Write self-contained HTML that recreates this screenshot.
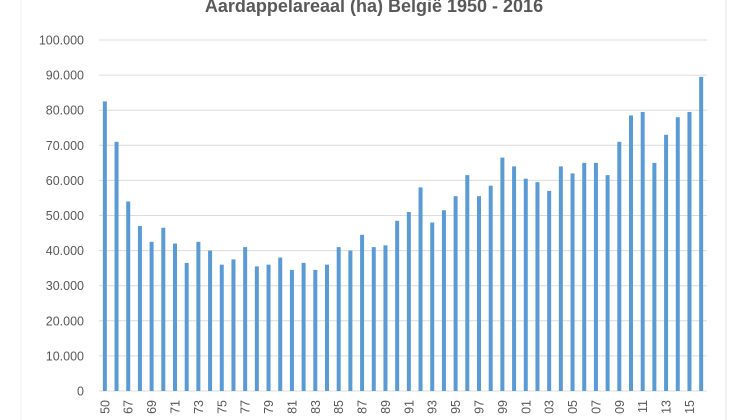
<!DOCTYPE html><html><head><style>body{margin:0;background:#fff}svg{display:block}</style></head><body>
<svg width="748" height="420" xmlns="http://www.w3.org/2000/svg" font-family="Liberation Sans, sans-serif">
<rect x="0" y="0" width="748" height="420" fill="#fff"/>
<line x1="726" y1="0" x2="726" y2="420" stroke="#e4e4e4"/>
<line x1="21" y1="0" x2="21" y2="420" stroke="#f0f0f0"/>
<text x="374" y="12" text-anchor="middle" font-size="18" font-weight="bold" fill="#595959">Aardappelareaal (ha) België 1950 - 2016</text>
<g id="g"></g>
</svg>
<script>
const v=[82.5,71,54,47,42.5,46.5,42,36.5,42.5,40,36,37.5,41,35.5,36,38,34.5,36.5,34.5,36,41,40,44.5,41,41.5,48.5,51,58,48,51.5,55.5,61.5,55.5,58.5,66.5,64,60.5,59.5,57,64,62,65,65,61.5,71,78.5,79.5,65,73,78,79.5,89.5];
const yrs=[50];for(let y=66;y<=116;y++)yrs.push(y%100);
const g=document.getElementById('g');let s='';
const y0=391,k=3.51,x0=99,x1=707,w=(x1-x0)/52;
for(let i=0;i<=10;i++){const y=y0-i*35.1;
 s+=`<line x1="${x0}" x2="${x1}" y1="${y}" y2="${y}" stroke="#dcdcdc" stroke-width="1"/>`;
 s+=`<text x="84" y="${y+4.5}" text-anchor="end" font-size="12.5" fill="#595959">${i==0?'0':(i*10)+'.000'}</text>`;}
v.forEach((d,i)=>{const cx=x0+w*(i+0.5);const h=d*k;
 s+=`<rect x="${cx-2}" y="${y0-h}" width="4" height="${h}" fill="#5b9bd5"/>`;
 if(i%2==0&&i<51){const l=String(yrs[i]).padStart(2,'0');s+=`<text transform="translate(${cx+4.5},${400}) rotate(-90)" text-anchor="end" font-size="12.5" fill="#595959">${l}</text>`;}
});
g.innerHTML=s;
</script>
</body></html>
